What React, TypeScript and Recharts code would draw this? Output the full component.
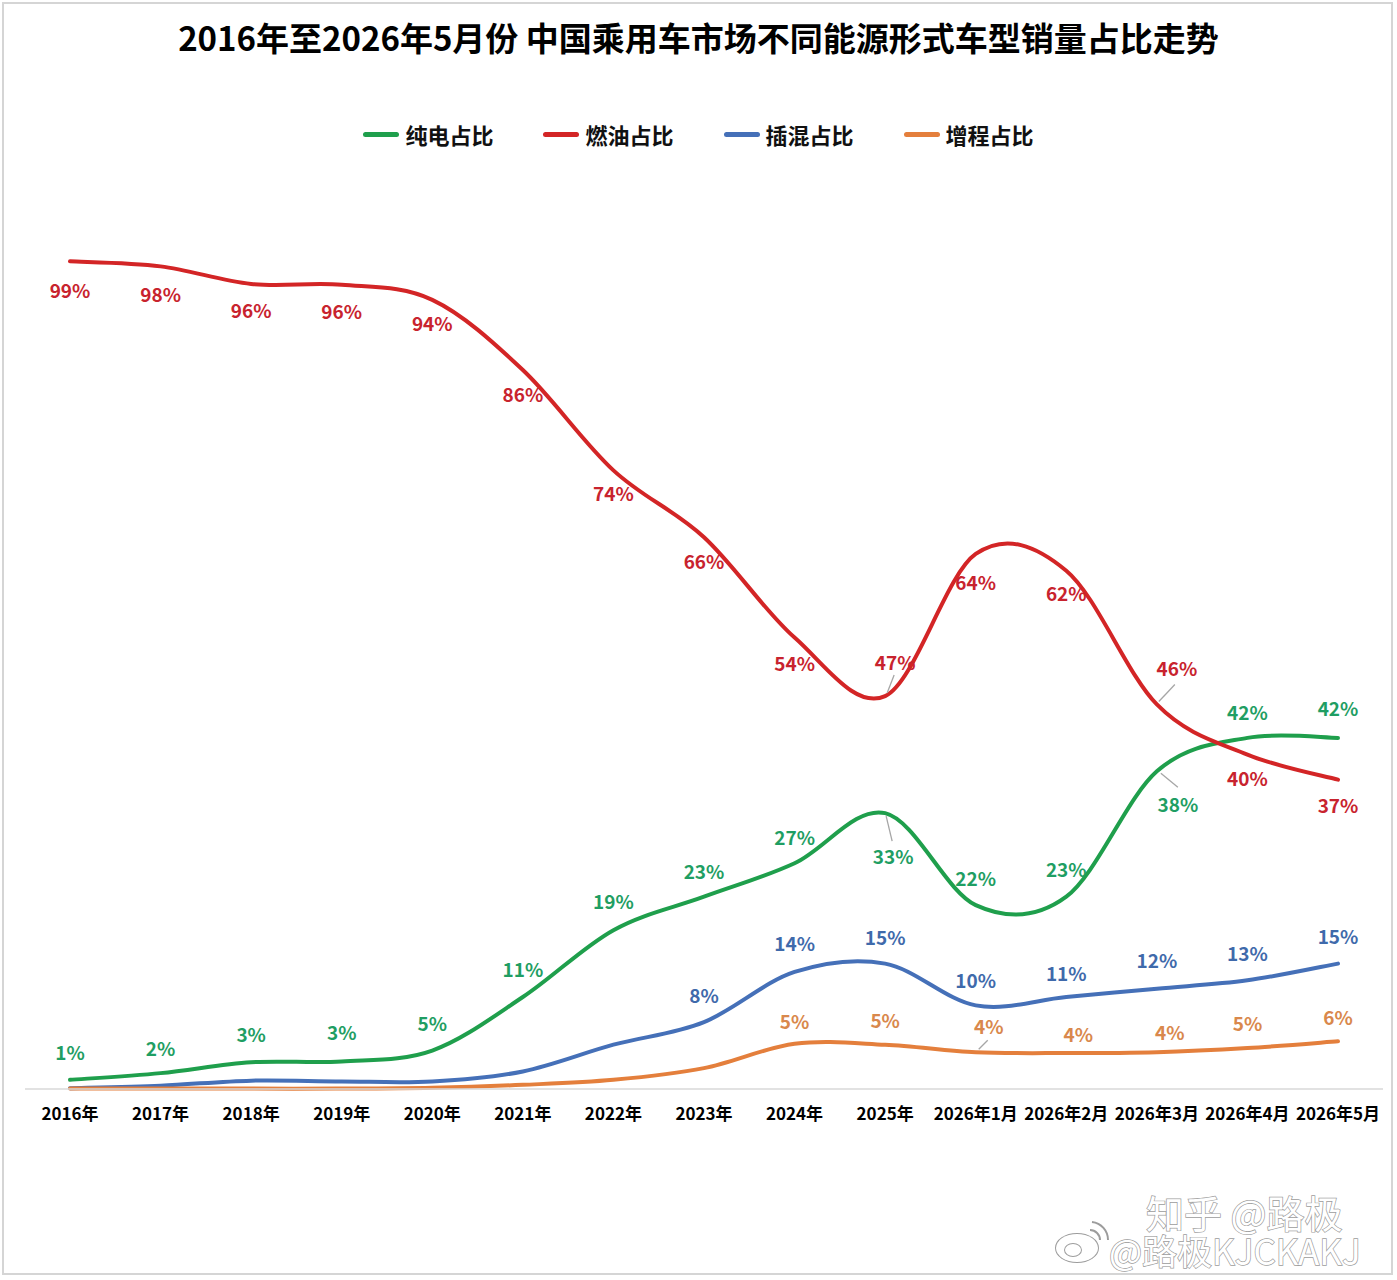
import { LineChart, Line, XAxis, YAxis, Legend, LabelList } from "recharts";

const FONT = '"Noto Sans CJK SC", "Noto Sans", sans-serif';

const CATEGORIES = [
  "2016年", "2017年", "2018年", "2019年", "2020年", "2021年", "2022年", "2023年",
  "2024年", "2025年", "2026年1月", "2026年2月", "2026年3月", "2026年4月", "2026年5月",
];

// shares in % (the printed labels are rounded)
const BEV = [1.1, 1.9, 3.2, 3.3, 4.6, 11, 19, 23, 27, 33, 22, 23, 38, 42, 42];
const ICE = [99, 98.4, 96.3, 96.2, 94.4, 86, 74, 66, 54, 47, 64, 62, 46, 40, 37];
const PHEV = [0.1, 0.4, 1.0, 0.9, 0.9, 2.1, 5.3, 8, 14, 15, 10, 11, 12, 13, 15];
const EREV = [0.05, 0.05, 0.05, 0.05, 0.15, 0.5, 1.1, 2.5, 5.4, 5.3, 4.4, 4.3, 4.4, 4.9, 5.7];

// label placement per point: [dx, dy, leader x1, y1, x2, y2]; null = no label
type Spot = number[] | null;

const BEV_SPOTS: Spot[] = [
  [0, -28], [0, -26], [0, -29], [0, -30], [0, -28], [0, -29], [0, -30], [0, -26],
  [0, -27], [8, 42, 1, 3, 7, 28], [0, -28], [0, -28], [21, 32, 4, 2, 21, 16],
  [0, -26], [0, -30],
];
const ICE_SPOTS: Spot[] = [
  [0, 28], [0, 27], [0, 26], [0, 26], [0, 23], [0, 23], [0, 22], [0, 23], [0, 25],
  [10, -35, 2, -3, 9, -21], [0, 28], [0, 22], [20, -37, 2, -3, 18, -20],
  [0, 23], [0, 25],
];
const PHEV_SPOTS: Spot[] = [
  null, null, null, null, null, null, null,
  [0, -28], [0, -29], [0, -27], [0, -26], [0, -25], [0, -29], [0, -28], [0, -28],
];
const EREV_SPOTS: Spot[] = [
  null, null, null, null, null, null, null, null,
  [0, -23], [0, -25], [13, -27, 3, -3, 12, -12], [12, -20], [13, -21], [0, -26], [0, -25],
];

const SERIES = [
  { key: "bev", name: "纯电占比", color: "#1f9f4c", text: "#1f9e63", spots: BEV_SPOTS },
  { key: "ice", name: "燃油占比", color: "#d32526", text: "#c8232e", spots: ICE_SPOTS },
  { key: "phev", name: "插混占比", color: "#4570b8", text: "#3f6aab", spots: PHEV_SPOTS },
  { key: "erev", name: "增程占比", color: "#e47f3c", text: "#d9884c", spots: EREV_SPOTS },
];

const data = CATEGORIES.map((name, i) => ({
  name,
  bev: BEV[i],
  ice: ICE[i],
  phev: PHEV[i],
  erev: EREV[i],
}));

// Excel-style smoothed line: Catmull-Rom bezier through every point
function excelCurve(context: any) {
  let pts: number[][] = [];
  return {
    areaStart() {},
    areaEnd() {},
    lineStart() {
      pts = [];
    },
    point(x: number, y: number) {
      pts.push([+x, +y]);
    },
    lineEnd() {
      if (!pts.length) return;
      context.moveTo(pts[0][0], pts[0][1]);
      for (let i = 0; i < pts.length - 1; i++) {
        const p0 = pts[Math.max(i - 1, 0)];
        const p1 = pts[i];
        const p2 = pts[i + 1];
        const p3 = pts[Math.min(i + 2, pts.length - 1)];
        context.bezierCurveTo(
          p1[0] + (p2[0] - p0[0]) / 6,
          p1[1] + (p2[1] - p0[1]) / 6,
          p2[0] - (p3[0] - p1[0]) / 6,
          p2[1] - (p3[1] - p1[1]) / 6,
          p2[0],
          p2[1],
        );
      }
    },
  };
}

function pointLabel(color: string, spots: Spot[]) {
  return (props: any) => {
    const spot = spots[props.index];
    if (!spot || props.value == null) return null;
    const x = Number(props.x ?? props.viewBox?.x);
    const y = Number(props.y ?? props.viewBox?.y);
    const [dx, dy, ...leader] = spot;
    return (
      <g>
        {leader.length === 4 && (
          <line
            x1={x + leader[0]}
            y1={y + leader[1]}
            x2={x + leader[2]}
            y2={y + leader[3]}
            stroke="#a6a6a6"
            strokeWidth={1.3}
          />
        )}
        <text
          x={x + dx}
          y={y + dy}
          textAnchor="middle"
          dominantBaseline="central"
          fill={color}
          fontSize={19}
          fontWeight={700}
          fontFamily={FONT}
        >
          {Math.round(props.value)}%
        </text>
      </g>
    );
  };
}

function AxisTick({ x, y, payload }: any) {
  return (
    <text
      x={x}
      y={y + 31}
      textAnchor="middle"
      fill="#000"
      fontSize={17}
      fontWeight={700}
      fontFamily={FONT}
    >
      {payload.value}
    </text>
  );
}

function LegendRow({ payload }: any) {
  // keep the series order (Recharts hands the payload over reversed here)
  const order = SERIES.map((s) => s.name);
  const items = [...(payload ?? [])].sort(
    (a: any, b: any) => order.indexOf(a.value) - order.indexOf(b.value),
  );
  return (
    <div style={{ display: "flex", justifyContent: "center", gap: 50, fontFamily: FONT }}>
      {items.map((item: any) => (
        <div key={item.value} style={{ display: "flex", alignItems: "center" }}>
          <span
            style={{
              width: 36,
              height: 5,
              borderRadius: 3,
              background: item.color,
              marginRight: 6,
            }}
          />
          <span style={{ fontSize: 22, fontWeight: 700, color: "#111", lineHeight: 1 }}>
            {item.value}
          </span>
        </div>
      ))}
    </div>
  );
}

function Watermark() {
  const mark = { fill: "#ffffff", stroke: "#9c9c9c", strokeWidth: 1.4, paintOrder: "stroke" as const };
  return (
    <svg
      width={1397}
      height={1280}
      style={{ position: "absolute", left: 0, top: 0, pointerEvents: "none" }}
    >
      <text x={1146} y={1228} fontSize={38} fontFamily={FONT} {...mark}>
        知乎 @路极
      </text>
      <g {...mark} strokeWidth={2}>
        <ellipse cx={1077} cy={1248} rx={21} ry={14} />
        <ellipse cx={1073} cy={1250} rx={8} ry={6} />
        <path d="M1090 1230 a10 10 0 0 1 10 10" fill="none" />
        <path d="M1092 1222 a18 18 0 0 1 16 18" fill="none" />
      </g>
      <text x={1109} y={1265} fontSize={35} fontFamily={FONT} {...mark}>
        @路极KJCKAKJ
      </text>
    </svg>
  );
}

export default function App() {
  return (
    <div
      style={{
        position: "absolute",
        left: 0,
        top: 0,
        width: 1397,
        height: 1280,
        background: "#fff",
        fontFamily: FONT,
      }}
    >
      <div
        style={{
          position: "absolute",
          left: 2,
          top: 2,
          width: 1391,
          height: 1273,
          border: "2px solid #d5d5d5",
          boxSizing: "border-box",
        }}
      />
      <div
        style={{
          position: "absolute",
          top: 17,
          width: 1397,
          textAlign: "center",
          fontSize: 33,
          fontWeight: 700,
          lineHeight: "40px",
          color: "#000",
        }}
      >
        2016年至2026年5月份 中国乘用车市场不同能源形式车型销量占比走势
      </div>

      <LineChart
        width={1397}
        height={1280}
        data={data}
        margin={{ top: 253, right: 14, bottom: 151, left: 25 }}
      >
        <XAxis
          dataKey="name"
          interval={0}
          height={40}
          padding={{ left: 45, right: 45 }}
          axisLine={{ stroke: "#d9d9d9", strokeWidth: 1.5 }}
          tickLine={false}
          tickSize={0}
          tickMargin={0}
          tick={<AxisTick />}
        />
        <YAxis hide domain={[0, 100]} />
        <Legend
          verticalAlign="middle"
          align="center"
          layout="horizontal"
          content={<LegendRow />}
          wrapperStyle={{ top: 123, left: 0, width: 1397 }}
        />
        {SERIES.map((s) => (
          <Line
            key={s.key}
            dataKey={s.key}
            name={s.name}
            type={excelCurve as any}
            stroke={s.color}
            strokeWidth={4}
            strokeLinecap="round"
            dot={false}
            activeDot={false}
            isAnimationActive={false}
          >
            <LabelList dataKey={s.key} content={pointLabel(s.text, s.spots)} />
          </Line>
        ))}
      </LineChart>

      <Watermark />
    </div>
  );
}
